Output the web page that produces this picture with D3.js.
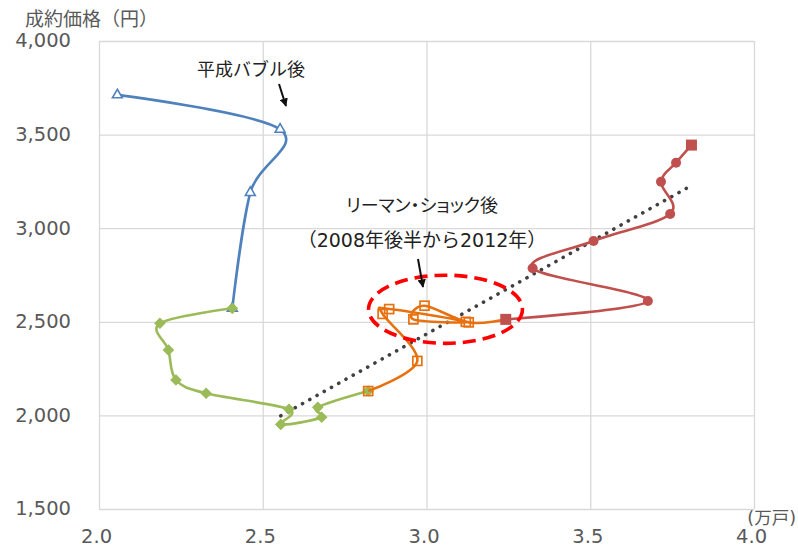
<!DOCTYPE html>
<html>
<head>
<meta charset="utf-8">
<script src="https://cdn.jsdelivr.net/npm/d3@7/dist/d3.min.js"></script>
<style>
  html, body { margin: 0; padding: 0; background: #fff; }
  svg { display: block; }
  .palt { font-feature-settings: "palt" 1; }
</style>
</head>
<body>
<svg id="chart" width="798" height="549"></svg>
<script>
// Housing supply (万戸) vs contract price (円), by period
const xTicks = [2.0, 2.5, 3.0, 3.5, 4.0];
const yTicks = [1500, 2000, 2500, 3000, 3500, 4000];

// after the Heisei bubble
const bubbleX = [2.056, 2.553, 2.462, 2.407];
const bubbleY = [3712, 3528, 3190, 2572];

// transition years
const midX = [2.407, 2.186, 2.212, 2.235, 2.327, 2.580, 2.555, 2.680, 2.668, 2.822];
const midY = [2572, 2492, 2349, 2189, 2118, 2033, 1952, 1990, 2043, 2130];

// after the Lehman shock (2008 H2 – 2012)
const lehmanX = [2.822, 2.972, 2.866, 2.886, 3.120, 2.960, 2.994, 3.129, 3.242];
const lehmanY = [2130, 2291, 2542, 2568, 2500, 2513, 2586, 2497, 2513];

// recent years
const recentX = [3.242, 3.676, 3.324, 3.510, 3.744, 3.716, 3.762, 3.809];
const recentY = [2513, 2611, 2786, 2932, 3076, 3248, 3350, 3444];

// linear trend
const trendX = [2.555, 3.809];
const trendY = [1998, 3228];

const svg = d3.select("#chart");
const W = 798, H = 549;
const margin = { left: 99, right: W - 754, top: 41, bottom: H - 509 };

const x = d3.scaleLinear().domain([2.0, 4.0]).range([margin.left, W - margin.right]);
const y = d3.scaleLinear().domain([1500, 4000]).range([H - margin.bottom, margin.top]);

const gridColor = "#d9d9d9";
const labelColor = "#595959";
const latin = "'DejaVu Sans', 'Noto Sans CJK JP', sans-serif";
const cjk = "'Noto Sans CJK JP', 'DejaVu Sans', sans-serif";

// gridlines
svg.append("g").selectAll("line").data(yTicks).join("line")
  .attr("x1", x(2.0)).attr("x2", x(4.0))
  .attr("y1", d => y(d) + 0.5).attr("y2", d => y(d) + 0.5)
  .attr("stroke", gridColor).attr("stroke-width", 1.3);
svg.append("g").selectAll("line").data(xTicks).join("line")
  .attr("y1", y(1500)).attr("y2", y(4000))
  .attr("x1", d => x(d) + 0.5).attr("x2", d => x(d) + 0.5)
  .attr("stroke", gridColor).attr("stroke-width", 1.3);

// axes (labels only; lines come from the grid)
const yAxis = d3.axisLeft(y).tickValues(yTicks).tickSize(0).tickPadding(28)
  .tickFormat(d3.format(","));
const gy = svg.append("g").attr("transform", `translate(${x(2.0)},0)`).call(yAxis);
gy.select(".domain").remove();
gy.selectAll("text").attr("font-family", latin).attr("font-size", 19.5)
  .attr("fill", labelColor).attr("dy", "0.3em");

const xAxis = d3.axisBottom(x).tickValues(xTicks).tickSize(0).tickPadding(20)
  .tickFormat(d3.format(".1f"));
const gx = svg.append("g").attr("transform", `translate(0,${y(1500)})`).call(xAxis);
gx.select(".domain").remove();
gx.selectAll("text").attr("font-family", latin).attr("font-size", 19.5)
  .attr("fill", labelColor).attr("dx", "-0.15em");

// axis titles
svg.append("text").attr("x", 25).attr("y", 26)
  .attr("font-family", cjk).attr("font-size", 19).attr("fill", labelColor)
  .text("成約価格（円）");
svg.append("text").attr("x", 796).attr("y", 524).attr("text-anchor", "end")
  .attr("font-family", latin).attr("font-size", 17.5).attr("fill", labelColor)
  .text("(万戸)");

const line = d3.line().x(d => x(d[0])).y(d => y(d[1])).curve(d3.curveCardinal.tension(0));
const zip = (a, b) => a.map((v, i) => [v, b[i]]);

// trend line (dotted)
svg.append("path").datum(zip(trendX, trendY))
  .attr("d", d3.line().x(d => x(d[0])).y(d => y(d[1])))
  .attr("fill", "none").attr("stroke", "#404040").attr("stroke-width", 3.6)
  .attr("stroke-linecap", "round").attr("stroke-dasharray", "0.1 8.2");

// series
const blue = "#4f81bd", green = "#9bbb59", orange = "#e8710f", red = "#c0504d";

function drawLine(pts, color) {
  svg.append("path").datum(pts).attr("d", line)
    .attr("fill", "none").attr("stroke", color).attr("stroke-width", 2.6)
    .attr("stroke-linejoin", "round");
}

// blue: hollow triangles
const bPts = zip(bubbleX, bubbleY);
drawLine(bPts, blue);
svg.append("g").selectAll("path").data(bPts).join("path")
  .attr("transform", d => `translate(${x(d[0])},${y(d[1])})`)
  .attr("d", d3.symbol(d3.symbolTriangle, 42)())
  .attr("fill", "#fff").attr("stroke", blue).attr("stroke-width", 1.6);

// green: filled diamonds
const gPts = zip(midX, midY);
drawLine(gPts, green);
svg.append("g").selectAll("path").data(gPts).join("path")
  .attr("transform", d => `translate(${x(d[0])},${y(d[1])}) rotate(45)`)
  .attr("d", d3.symbol(d3.symbolSquare, 52)())
  .attr("fill", green).attr("stroke", green).attr("stroke-width", 1);

// orange: hollow squares
const oPts = zip(lehmanX, lehmanY);
drawLine(oPts, orange);
svg.append("g").selectAll("rect").data(oPts.slice(0, -1)).join("rect")
  .attr("x", d => x(d[0]) - 4.5).attr("y", d => y(d[1]) - 4.5)
  .attr("width", 9).attr("height", 9)
  .attr("fill", "none").attr("stroke", orange).attr("stroke-width", 1.7);

// red: filled circles, squares at both ends
const rPts = zip(recentX, recentY);
drawLine(rPts, red);
const ends = [rPts[0], rPts[rPts.length - 1]];
svg.append("g").selectAll("circle").data(rPts.slice(1, -1)).join("circle")
  .attr("cx", d => x(d[0])).attr("cy", d => y(d[1])).attr("r", 5)
  .attr("fill", red);
svg.append("g").selectAll("rect").data(ends).join("rect")
  .attr("x", d => x(d[0]) - 5.5).attr("y", d => y(d[1]) - 5.5)
  .attr("width", 11).attr("height", 11).attr("fill", red);

// dashed ellipse around the post-Lehman cluster
const ell = { cx: 3.058, cy: 2567, rx: 0.235, ry: 182 };
svg.append("ellipse")
  .attr("cx", x(ell.cx)).attr("cy", y(ell.cy))
  .attr("rx", x(ell.cx + ell.rx) - x(ell.cx))
  .attr("ry", y(ell.cy - ell.ry) - y(ell.cy))
  .attr("fill", "none").attr("stroke", "#ff0000").attr("stroke-width", 3.6)
  .attr("stroke-dasharray", "13 7");

// annotations
const defs = svg.append("defs");
defs.append("marker").attr("id", "arrow").attr("viewBox", "0 0 10 10")
  .attr("refX", 9).attr("refY", 5).attr("markerWidth", 4.2).attr("markerHeight", 4.2)
  .attr("orient", "auto")
  .append("path").attr("d", "M0,0 L10,5 L0,10 Z").attr("fill", "#111");

const noteColor = "#222";
svg.append("text").attr("x", 251).attr("y", 76).attr("text-anchor", "middle")
  .attr("font-family", cjk).attr("font-size", 18).attr("fill", noteColor)
  .text("平成バブル後");
svg.append("line").attr("x1", 279).attr("y1", 84).attr("x2", 286).attr("y2", 106)
  .attr("stroke", "#111").attr("stroke-width", 2).attr("marker-end", "url(#arrow)");

svg.append("text").attr("class", "palt").attr("x", 422).attr("y", 212).attr("text-anchor", "middle")
  .attr("font-family", cjk).attr("font-size", 18).attr("fill", noteColor)
  .text("リーマン・ショック後");
svg.append("text").attr("x", 422).attr("y", 247).attr("text-anchor", "middle")
  .attr("font-family", latin).attr("font-size", 19).attr("fill", noteColor)
  .text("（2008年後半から2012年）");
svg.append("line").attr("x1", 418).attr("y1", 259).attr("x2", 423).attr("y2", 287)
  .attr("stroke", "#111").attr("stroke-width", 2).attr("marker-end", "url(#arrow)");
</script>
</body>
</html>
